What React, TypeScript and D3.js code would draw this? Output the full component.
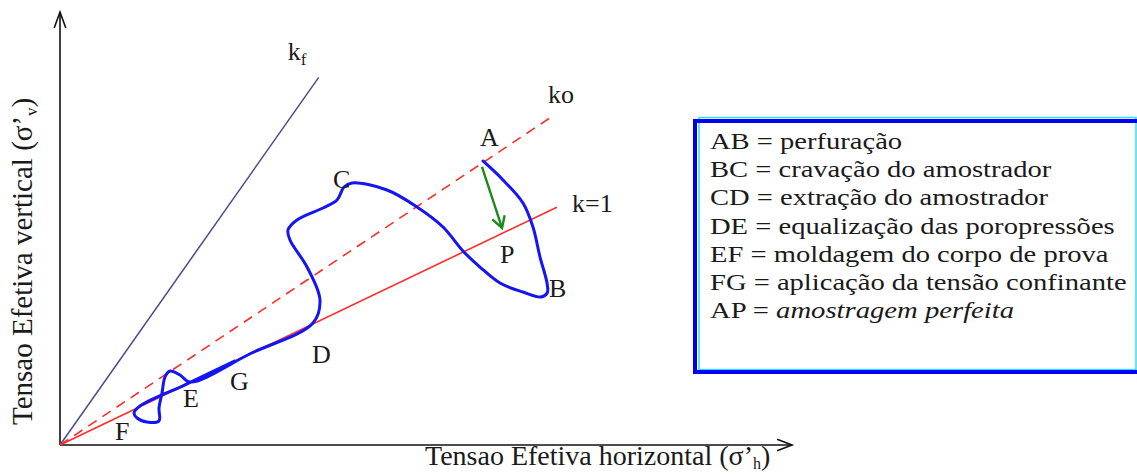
import React, { useMemo } from "react";
import * as d3 from "d3";

const W = 1137;
const H = 474;

// rays from the origin, [σ'h, σ'v] (arbitrary units)
const kfLine: [number, number][] = [[0, 0], [35.2, 50.1]];
const koLine: [number, number][] = [[0, 0], [66.7, 44.6]];
const k1Line: [number, number][] = [[0, 0], [67.6, 32.4]];

// stress path A -> B -> C -> D -> E -> F -> G
const stressPath: [number, number][] = [
  [57.55, 38.7], [60.27, 36.11], [62.99, 32.97], [64.35, 29.7], [65.31, 25.61],
  [66.26, 22.07], [66.3, 20.75], [65.44, 20.17], [62.99, 20.85], [59.86, 22.07],
  [57.14, 24.25], [54.83, 26.43], [52.11, 29.7], [48.57, 32.43], [44.49, 34.75],
  [39.73, 35.7], [38.64, 35.15], [37.69, 33.38], [35.78, 32.29], [32.24, 30.66],
  [31.02, 29.3], [31.29, 27.93], [33.61, 24.25], [35.37, 19.76], [34.42, 16.62],
  [26.0, 12.5], [17.69, 8.58], [16.33, 9.54], [14.97, 10.08], [14.29, 9.27],
  [13.88, 7.09], [13.47, 5.04], [13.47, 3.27], [11.84, 3.13], [10.48, 3.68],
  [10.07, 4.36], [10.88, 5.31], [17.0, 8.2], [23.81, 11.45],
];

// A -> P (amostragem perfeita)
const arrowAP: [number, number][] = [[57.41, 37.88], [60.14, 29.57]];

const pointLabels = [
  { text: "A", x: 57.14, y: 40.74 },
  { text: "B", x: 66.53, y: 20.17 },
  { text: "C", x: 37.14, y: 35.0 },
  { text: "D", x: 34.29, y: 11.17 },
  { text: "E", x: 16.73, y: 5.18 },
  { text: "F", x: 7.48, y: 0.68 },
  { text: "G", x: 23.13, y: 7.49 },
  { text: "P", x: 59.86, y: 24.8 },
  { text: "ko", x: 66.39, y: 46.6 },
  { text: "k=1", x: 69.66, y: 31.75 },
];
const kfLabel = { x: 31.0, y: 52.46 };

const legendItems = [
  ["AB", "perfuração"],
  ["BC", "cravação do amostrador"],
  ["CD", "extração do amostrador"],
  ["DE", "equalização das poropressões"],
  ["EF", "moldagem do corpo de prova"],
  ["FG", "aplicação da tensão confinante"],
  ["AP", "amostragem perfeita"],
];

const xLabel = "Tensao Efetiva horizontal (σ’";
const yLabel = "Tensao Efetiva vertical (σ’";

const FONT = "Liberation Serif";
const LEGEND_SIZE = 24;
const LEGEND_STRETCH = 1.19;

// open V arrow head at tip, pointing along from->tip
function arrowHead(from: number[], tip: number[], len: number, deg: number) {
  const a = Math.atan2(tip[1] - from[1], tip[0] - from[0]);
  const s = (deg * Math.PI) / 180;
  const p1 = [tip[0] - len * Math.cos(a - s), tip[1] - len * Math.sin(a - s)];
  const p2 = [tip[0] - len * Math.cos(a + s), tip[1] - len * Math.sin(a + s)];
  return `M${p1[0]},${p1[1]}L${tip[0]},${tip[1]}L${p2[0]},${p2[1]}`;
}

export default function App() {
  const x = d3.scaleLinear().domain([0, 100]).range([60, 795]);
  const y = d3.scaleLinear().domain([0, 59]).range([445, 12]);

  const straight = d3
    .line<[number, number]>()
    .x((d) => x(d[0]))
    .y((d) => y(d[1]));
  const smooth = d3
    .line<[number, number]>()
    .x((d) => x(d[0]))
    .y((d) => y(d[1]))
    .curve(d3.curveCatmullRom.alpha(0.5));

  // legend text in the source is horizontally stretched
  const legendWidths = useMemo(() => {
    const ctx = document.createElement("canvas").getContext("2d");
    return legendItems.map(([k, v]) => {
      if (!ctx) return undefined;
      ctx.font = `${LEGEND_SIZE}px "${FONT}"`;
      let w = ctx.measureText(`${k} = `).width;
      ctx.font = `${k === "AP" ? "italic " : ""}${LEGEND_SIZE}px "${FONT}"`;
      w += ctx.measureText(v).width;
      return w * LEGEND_STRETCH;
    });
  }, []);

  const o = [x(0), y(0)];
  const yTip = [x(0), y(59)];
  const xTip = [x(99.6), y(0)];
  const ap0 = [x(arrowAP[0][0]), y(arrowAP[0][1])];
  const ap1 = [x(arrowAP[1][0]), y(arrowAP[1][1])];

  return (
    <svg
      width={W}
      height={H}
      style={{ position: "absolute", left: 0, top: 0, background: "#fff" }}
      fontFamily={FONT}
      fill="#1a1a1a"
    >
      {/* axes */}
      <g stroke="#111" strokeWidth={1.6} fill="none">
        <line x1={o[0]} y1={o[1]} x2={yTip[0]} y2={yTip[1]} />
        <line x1={o[0]} y1={o[1]} x2={xTip[0]} y2={xTip[1]} />
        <path d={arrowHead(o, yTip, 17, 20)} />
        <path d={arrowHead(o, xTip, 16, 21)} />
      </g>

      {/* k lines */}
      <path d={straight(kfLine) ?? ""} stroke="#4b4b8f" strokeWidth={1.5} fill="none" />
      <path d={straight(koLine) ?? ""} stroke="#ff2b2b" strokeWidth={1.6} strokeDasharray="10,7" fill="none" />
      <path d={straight(k1Line) ?? ""} stroke="#ff2b2b" strokeWidth={1.6} fill="none" />

      {/* stress path */}
      <path
        d={smooth(stressPath) ?? ""}
        stroke="#1414f5"
        strokeWidth={3}
        fill="none"
        strokeLinejoin="round"
        strokeLinecap="round"
      />

      {/* A -> P arrow */}
      <g stroke="#1e8a1e" strokeWidth={2.4} fill="none">
        <line x1={ap0[0]} y1={ap0[1]} x2={ap1[0]} y2={ap1[1]} />
        <path d={arrowHead(ap0, ap1, 13, 30)} />
      </g>

      {/* point labels */}
      {pointLabels.map((l) => (
        <text key={l.text} x={x(l.x)} y={y(l.y)} fontSize={26}>
          {l.text}
        </text>
      ))}
      <text x={x(kfLabel.x)} y={y(kfLabel.y)} fontSize={26}>
        k<tspan fontSize={17} dy={5}>f</tspan>
      </text>

      {/* axis titles */}
      <text x={425} y={465} fontSize={28}>
        {xLabel}
        <tspan fontSize={16} dy={4}>h</tspan>
        <tspan dy={-4}>)</tspan>
      </text>
      <text transform="translate(32,425) rotate(-90)" fontSize={29}>
        {yLabel}
        <tspan fontSize={17} dy={5}>v</tspan>
        <tspan dy={-5}>)</tspan>
      </text>

      {/* legend box */}
      <rect x={699} y={117.5} width={437} height={252} fill="none" stroke="#30e0f0" strokeWidth={1.5} />
      <rect x={695} y={121} width={470} height={251} fill="none" stroke="#0000ee" strokeWidth={4} />
      <g fontSize={LEGEND_SIZE}>
        {legendItems.map(([k, v], i) => (
          <text
            key={k}
            x={710}
            y={149 + 28.2 * i}
            textLength={legendWidths[i]}
            lengthAdjust="spacingAndGlyphs"
          >
            {k + " = "}
            {k === "AP" ? <tspan fontStyle="italic">{v}</tspan> : v}
          </text>
        ))}
      </g>
    </svg>
  );
}
